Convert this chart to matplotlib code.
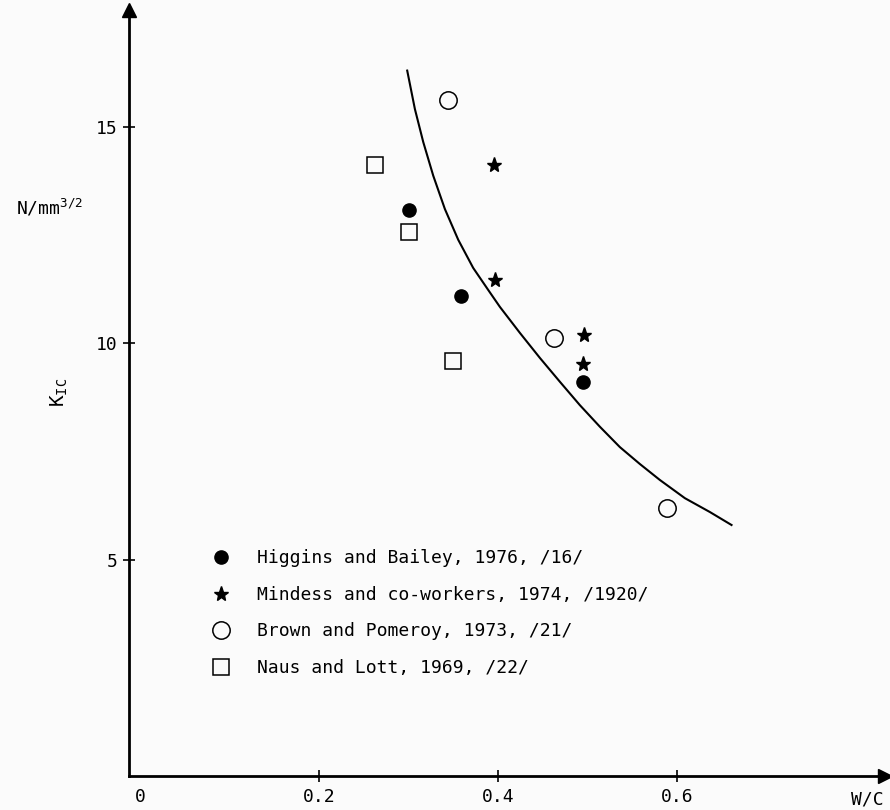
import matplotlib.pyplot as plt

# water/cement ratio vs fracture toughness K_IC (N/mm^3/2)
higgins_wc = [0.300, 0.359, 0.495]
higgins_k = [13.09, 11.08, 9.11]

mindess_wc = [0.395, 0.396, 0.496, 0.495]
mindess_k = [14.12, 11.46, 10.18, 9.51]

brown_wc = [0.344, 0.462, 0.589]
brown_k = [15.63, 10.12, 6.19]

naus_wc = [0.262, 0.300, 0.349]
naus_k = [14.12, 12.57, 9.60]

# hand-drawn trend curve
curve_wc = [0.2984, 0.3070, 0.3163, 0.3275, 0.3405, 0.3554, 0.3721, 0.3889, 0.4019, 0.4242,
            0.4466, 0.4689, 0.4912, 0.5136, 0.5359, 0.5582, 0.5806, 0.6085, 0.6364, 0.6606]
curve_k = [16.30, 15.41, 14.65, 13.87, 13.10, 12.39, 11.74, 11.23, 10.84, 10.24,
           9.66, 9.11, 8.57, 8.07, 7.60, 7.21, 6.84, 6.42, 6.10, 5.80]

xticks = [0, 0.2, 0.4, 0.6]
xticklabels = ['0', '0.2', '0.4', '0.6']
yticks = [5, 10, 15]

labels = ['Higgins and Bailey, 1976, /16/',
          'Mindess and co-workers, 1974, /1920/',
          'Brown and Pomeroy, 1973, /21/',
          'Naus and Lott, 1969, /22/']

plt.rcParams['font.family'] = 'DejaVu Sans Mono'
plt.rcParams['mathtext.fontset'] = 'custom'
plt.rcParams['mathtext.rm'] = 'DejaVu Sans Mono'
plt.rcParams['mathtext.it'] = 'DejaVu Sans Mono'

fig = plt.figure(figsize=(8.9, 8.1), dpi=100, facecolor='#fbfbfb')
ax = fig.add_axes([129 / 890, 34 / 810, 756 / 890, 766 / 810])
ax.set_facecolor('#fbfbfb')

ax.plot(curve_wc, curve_k, color='black', lw=1.5)
ax.plot(higgins_wc, higgins_k, 'o', color='black', ms=9.5, ls='none', label=labels[0])
ax.plot(mindess_wc, mindess_k, '*', color='black', ms=11, ls='none', label=labels[1])
ax.plot(brown_wc, brown_k, 'o', mfc='none', mec='black', mew=1.1, ms=12.5, ls='none', label=labels[2])
ax.plot(naus_wc, naus_k, 's', mfc='none', mec='black', mew=1.1, ms=11, ls='none', label=labels[3])

ax.set_xlim(-0.0123, 0.832)
ax.set_ylim(0, 17.7)

for s in ['top', 'right']:
    ax.spines[s].set_visible(False)
for s in ['left', 'bottom']:
    ax.spines[s].set_linewidth(2.0)

# arrow heads at the ends of the axes
ax.plot(1, 0, '>k', ms=10, transform=ax.transAxes, clip_on=False)
ax.plot(0, 1, '^k', ms=10, transform=ax.transAxes, clip_on=False)

ax.set_xticks(xticks)
ax.set_xticklabels(xticklabels)
ax.set_yticks(yticks)
ax.tick_params(direction='inout', length=9, width=1.2, labelsize=13, pad=4)
ax.xaxis.get_major_ticks()[0].tick1line.set_visible(False)

fig.text(50 / 890, 1 - 208 / 810, 'N/mm$^{3/2}$', fontsize=13, ha='center', va='center')
fig.text(59 / 890, 1 - 392 / 810, 'K$_{\\mathrm{IC}}$', fontsize=14, ha='center', va='center', rotation=90)
fig.text(867 / 890, 1 - 800 / 810, 'W/C', fontsize=13, ha='center', va='center')

ax.legend(loc='upper left', bbox_to_anchor=(205 / 890, 1 - 542 / 810),
          bbox_transform=fig.transFigure, frameon=False, fontsize=13,
          handlelength=1.0, handletextpad=1.5, labelspacing=1.03, borderaxespad=0)

fig.savefig('out.png', dpi=100, facecolor=fig.get_facecolor())
